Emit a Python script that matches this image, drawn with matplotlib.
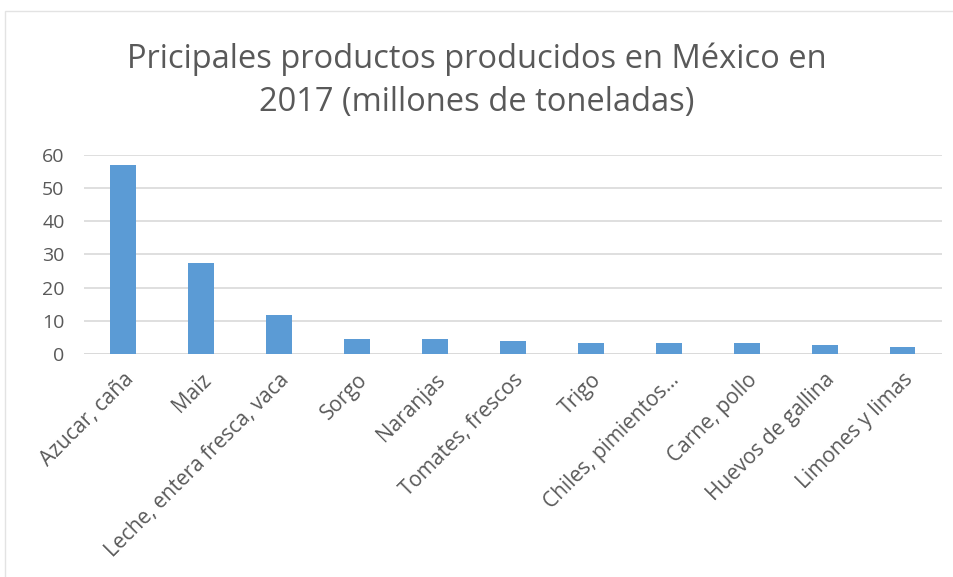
import numpy as np
import matplotlib.pyplot as plt
from matplotlib.patches import Rectangle

productos = ["Azucar, caña", "Maiz", "Leche, entera fresca, vaca", "Sorgo",
             "Naranjas", "Tomates, frescos", "Trigo", "Chiles, pimientos…",
             "Carne, pollo", "Huevos de gallina", "Limones y limas"]
toneladas = [56.9, 27.3, 11.7, 4.5, 4.5, 3.9, 3.3, 3.3, 3.3, 2.7, 2.1]
yticks = [0, 10, 20, 30, 40, 50, 60]

plt.rcParams['font.family'] = ['Open Sans', 'DejaVu Sans']

gray = "#595959"
fig = plt.figure(figsize=(9.54, 5.77), dpi=100)
# chart border
fig.patches.append(Rectangle((5 / 954, -0.1), 1.2, 1 - 11 / 577 + 0.1,
                             transform=fig.transFigure, fill=False,
                             edgecolor="#e3e3e3", lw=1))

ax = fig.add_axes([0.088, 0.3865, 0.899, 0.3455])
x = np.arange(len(productos))
ax.bar(x, toneladas, width=0.33, color="#5b9bd5", zorder=3)
ax.set_xlim(-0.5, len(productos) - 0.5)
ax.set_ylim(0, 60)
ax.set_yticks(yticks)
ax.yaxis.grid(True, color="#d9d9d9", lw=1.2, zorder=0)
for s in ax.spines.values():
    s.set_visible(False)
ax.axhline(0, color="#d9d9d9", lw=1.2, zorder=2)
ax.tick_params(length=0, colors=gray, labelsize=14)
ax.tick_params(axis='y', pad=14)
ax.tick_params(axis='x', pad=11)
ax.set_xticks(x)
ax.set_xticklabels(productos, rotation=45, ha="right", va="top",
                   rotation_mode="anchor", color=gray, fontsize=15)

fig.text(0.5, 0.86, "Pricipales productos producidos en México en\n2017 (millones de toneladas)",
         ha="center", va="center", fontsize=23.5, color=gray, linespacing=1.42)

fig.savefig("out.png", dpi=100)
